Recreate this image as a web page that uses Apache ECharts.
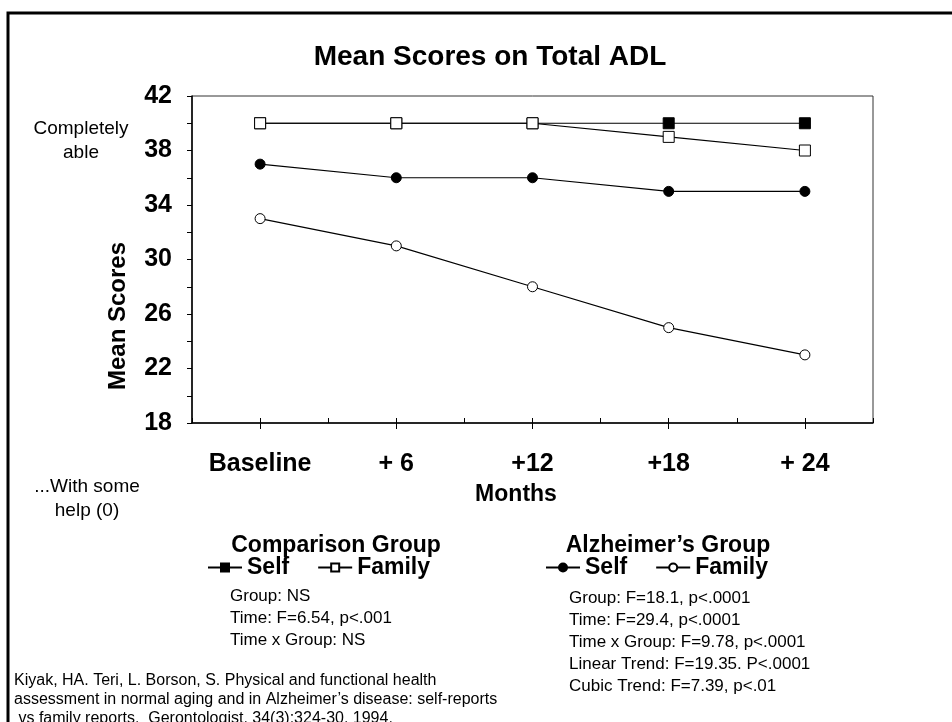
<!DOCTYPE html>
<html><head><meta charset="utf-8">
<script src="https://cdn.jsdelivr.net/npm/echarts@6/dist/echarts.min.js"></script>
<style>html,body{margin:0;padding:0;background:#fff}#c{width:952px;height:722px}</style>
</head><body><div id="c"></div>
<script>
const categories = ['Baseline', '+ 6', '+12', '+18', '+ 24'];
const comparisonSelf = [40, 40, 40, 40, 40];
const comparisonFamily = [40, 40, 40, 39, 38];
const alzheimerSelf = [37, 36, 36, 35, 35];
const alzheimerFamily = [33, 31, 28, 25, 23];
const yTickLabels = [18, 22, 26, 30, 34, 38, 42];
const comparisonStats = ['Group: NS', 'Time: F=6.54, p<.001', 'Time x Group: NS'];
const alzheimerStats = ['Group: F=18.1, p<.0001', 'Time: F=29.4, p<.0001', 'Time x Group: F=9.78, p<.0001', 'Linear Trend: F=19.35. P<.0001', 'Cubic Trend: F=7.39, p<.01'];
const citationLines = ['Kiyak, HA. Teri, L. Borson, S. Physical and functional health', 'assessment in normal aging and in Alzheimer\u2019s disease: self-reports', ' vs family reports.  Gerontologist. 34(3):324-30, 1994.'];

const FONT = '"Liberation Sans", Arial, sans-serif';
const chart = echarts.init(document.getElementById('c'), null, {renderer: 'canvas'});

function txt(x, y, text, size, bold, align, extra) {
  return Object.assign({
    type: 'text', x: x, y: y, silent: true,
    style: {text: text, font: (bold ? 'bold ' : '') + size + 'px ' + FONT, fill: '#000', align: align || 'left', verticalAlign: 'middle'}
  }, extra || {});
}
const graphics = [
  {type: 'rect', shape: {x: 8, y: 13, width: 970, height: 740}, style: {fill: 'none', stroke: '#000', lineWidth: 3}, silent: true},
  txt(490, 57, 'Mean Scores on Total ADL', 28, true, 'center'),
  txt(81, 129, 'Completely', 19, false, 'center'),
  txt(81, 153, 'able', 19, false, 'center'),
  txt(87, 487, '...With some', 19, false, 'center'),
  txt(87, 511, 'help (0)', 19, false, 'center'),
  txt(516, 495, 'Months', 23, true, 'center'),
  txt(118, 316, 'Mean Scores', 24, true, 'center', {rotation: Math.PI / 2}),
  txt(336, 546, 'Comparison Group', 23, true, 'center'),
  txt(668, 546, 'Alzheimer\u2019s Group', 23, true, 'center')
];
comparisonStats.forEach((s, i) => graphics.push(txt(230, 596 + i * 22, s, 17, false, 'left')));
alzheimerStats.forEach((s, i) => graphics.push(txt(569, 598 + i * 22, s, 17, false, 'left')));
citationLines.forEach((s, i) => graphics.push(txt(14, 681 + i * 19, s, 16, false, 'left')));

const xBase = {type: 'category', data: categories, gridIndex: 0, position: 'bottom', boundaryGap: true};
const legendBase = {top: 556, padding: 0, itemWidth: 34, itemHeight: 10, itemGap: 28, selectedMode: false,
  formatter: n => n.split(' ')[1], textStyle: {fontFamily: FONT, fontWeight: 'bold', fontSize: 23, color: '#000'}};
const option = {
  animation: false,
  backgroundColor: '#fff',
  grid: {left: 192, top: 96, right: 79, bottom: 299, show: true, borderColor: '#333', borderWidth: 1, backgroundColor: 'transparent'},
  xAxis: [
    Object.assign({}, xBase, {
      axisLine: {lineStyle: {color: '#000', width: 1.5}},
      axisTick: {show: true, inside: true, length: 5, alignWithLabel: false, lineStyle: {color: '#000'}},
      axisLabel: {margin: 29, fontFamily: FONT, fontWeight: 'bold', fontSize: 25, color: '#000'},
      splitLine: {show: false}
    }),
    Object.assign({}, xBase, {
      axisLine: {show: false},
      axisTick: {show: true, inside: false, length: 6, alignWithLabel: true, lineStyle: {color: '#000'}},
      axisLabel: {show: false}, splitLine: {show: false}
    }),
    Object.assign({}, xBase, {
      axisLine: {show: false},
      axisTick: {show: true, inside: true, length: 5, alignWithLabel: true, lineStyle: {color: '#000'}},
      axisLabel: {show: false}, splitLine: {show: false}
    })
  ],
  yAxis: {
    type: 'value', min: 18, max: 42, interval: 2,
    axisLine: {show: true, lineStyle: {color: '#000', width: 1.5}},
    axisTick: {show: true, inside: false, length: 5, lineStyle: {color: '#000'}},
    axisLabel: {margin: 20, fontFamily: FONT, fontWeight: 'bold', fontSize: 25, color: '#000',
      formatter: v => yTickLabels.includes(v) ? String(v) : ''},
    splitLine: {show: false}
  },
  legend: [
    Object.assign({}, legendBase, {data: ['Comparison Self', 'Comparison Family'], left: 207}),
    Object.assign({}, legendBase, {data: ['Alzheimer Self', 'Alzheimer Family'], left: 545})
  ],
  series: [
    {name: 'Comparison Self', type: 'line', data: comparisonSelf, symbol: 'rect', symbolSize: 11,
      lineStyle: {color: '#000', width: 1.2}, itemStyle: {color: '#000', borderColor: '#000', borderWidth: 1}},
    {name: 'Comparison Family', type: 'line', data: comparisonFamily, symbol: 'rect', symbolSize: 11,
      lineStyle: {color: '#000', width: 1.2}, itemStyle: {color: '#fff', borderColor: '#000', borderWidth: 1}},
    {name: 'Alzheimer Self', type: 'line', data: alzheimerSelf, symbol: 'circle', symbolSize: 10,
      lineStyle: {color: '#000', width: 1.2}, itemStyle: {color: '#000', borderColor: '#000', borderWidth: 1}},
    {name: 'Alzheimer Family', type: 'line', data: alzheimerFamily, symbol: 'circle', symbolSize: 10,
      lineStyle: {color: '#000', width: 1.2}, itemStyle: {color: '#fff', borderColor: '#000', borderWidth: 1}}
  ],
  graphic: graphics
};
chart.setOption(option);
</script></body></html>
